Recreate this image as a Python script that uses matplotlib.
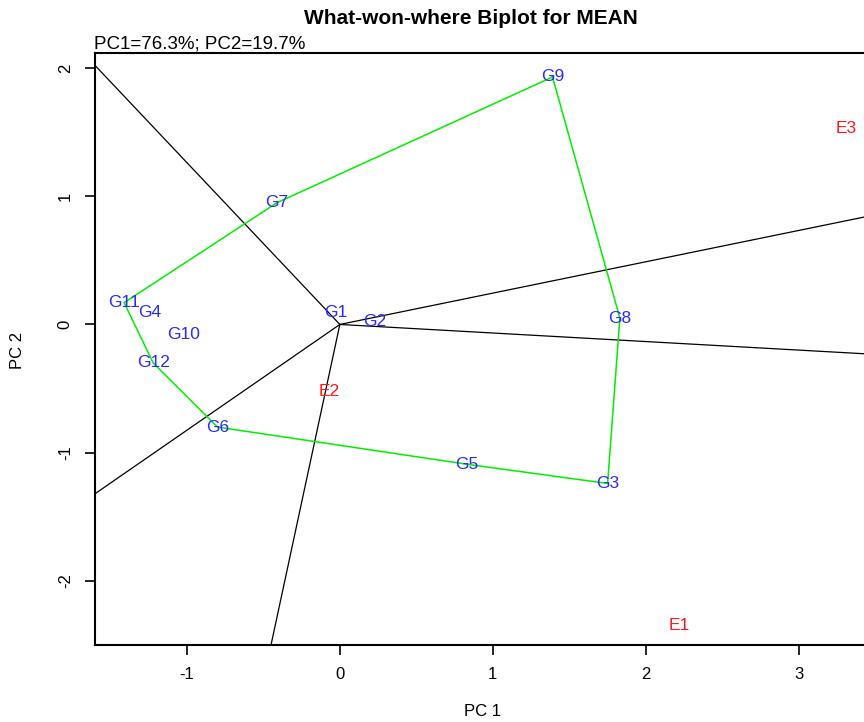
# What-won-where GGE biplot, R style
import matplotlib.pyplot as plt
import numpy as np

plt.rcParams['font.family'] = ['Liberation Sans', 'DejaVu Sans']
plt.rcParams['axes.unicode_minus'] = False

# genotype scores (PC1, PC2)
genotypes = ["G1", "G2", "G3", "G4", "G5", "G6", "G7", "G8", "G9", "G10", "G11", "G12"]
gen_pc1 = [-0.03, 0.23, 1.75, -1.24, 0.83, -0.80, -0.41, 1.83, 1.39, -1.02, -1.41, -1.22]
gen_pc2 = [0.09, 0.02, -1.24, 0.09, -1.09, -0.80, 0.95, 0.05, 1.93, -0.08, 0.17, -0.30]

# environment scores
environments = ["E1", "E2", "E3"]
env_pc1 = [2.22, -0.07, 3.31]
env_pc2 = [-2.35, -0.52, 1.53]

# convex hull order (vertices)
hull = ["G9", "G8", "G3", "G5", "G6", "G12", "G11", "G7", "G9"]

# sector lines: far end points of rays from origin
ray_pc1 = [-1.6, 3.6, 3.6, -1.6, -0.45]
ray_pc2 = [2.02, 0.88, -0.24, -1.32, -2.5]

fig = plt.figure(figsize=(8.64, 7.22), dpi=100)
ax = fig.add_axes([0.110, 0.1066, 0.8943, 0.82])

# rays
for rx, ry in zip(ray_pc1, ray_pc2):
    ax.plot([0, rx], [0, ry], color="black", lw=0.9)

# polygon
idx = [genotypes.index(g) for g in hull]
ax.plot([gen_pc1[i] for i in idx], [gen_pc2[i] for i in idx], color="#00ee00", lw=1.1)

for name, x, y in zip(genotypes, gen_pc1, gen_pc2):
    ax.text(x, y, name, color="#2a2aff", fontsize=12.5, ha="center", va="center")
for name, x, y in zip(environments, env_pc1, env_pc2):
    ax.text(x, y, name, color="#ff1a1a", fontsize=12.5, ha="center", va="center")

ax.set_xlim(-1.6, 3.45)
ax.set_ylim(-2.5, 2.117)
ax.set_xticks([-1, 0, 1, 2, 3])
ax.set_yticks([-2, -1, 0, 1, 2])
ax.tick_params(direction="out", length=7, width=1.2, labelsize=12, pad=9)
for lab in ax.get_yticklabels():
    lab.set_rotation(90)
    lab.set_va("center")
for s in ax.spines.values():
    s.set_linewidth(1.5)

fig.text(471 / 864, 1 - 18 / 722, "What-won-where Biplot for MEAN",
         ha="center", va="center", fontsize=15, fontweight="bold")
fig.text(94 / 864, 1 - 44 / 722, "PC1=76.3%; PC2=19.7%", ha="left", va="center", fontsize=13.5)
fig.text(483 / 864, 1 - 711 / 722, "PC 1", ha="center", va="center", fontsize=12)
fig.text(18 / 864, 1 - 350 / 722, "PC 2", ha="center", va="center", fontsize=12, rotation=90)

fig.savefig("out.png", dpi=100)
